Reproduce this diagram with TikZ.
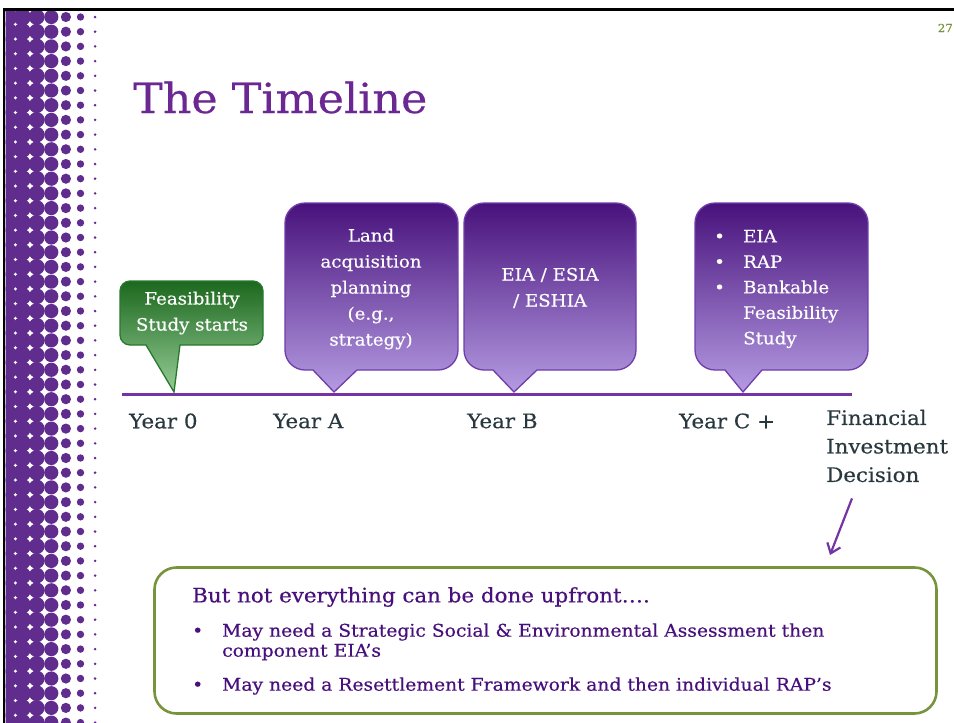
\documentclass[tikz,border=0pt]{standalone}
\usepackage{fontspec}
\setmainfont{DejaVu Serif}[FakeStretch=1.07,FakeBold=0.4]
\usetikzlibrary{arrows.meta}

\definecolor{dotpurple}{RGB}{96,44,142}
\definecolor{titlepurple}{RGB}{108,40,146}
\definecolor{linepurple}{RGB}{116,52,164}
\definecolor{bubbletop}{RGB}{72,18,124}
\definecolor{bubblebot}{RGB}{180,155,226}
\definecolor{bubbleedge}{RGB}{112,60,170}
\definecolor{greentop}{RGB}{28,104,30}
\definecolor{greenbot}{RGB}{150,205,150}
\definecolor{greenedge}{RGB}{40,120,45}
\definecolor{notegreen}{RGB}{119,147,60}
\definecolor{notepurple}{RGB}{72,16,124}
\definecolor{labelgray}{RGB}{40,56,62}

% speech bubble: style, left, top, right, bottom, pointer left, tip x, pointer right
\newcommand\speechbox[8]{%
  \path[#1] (#6,#5) -- (#7,392) -- (#8,#5) -- (#4-\bubbleradius,#5)
    arc[start angle=270,end angle=360,radius=\bubbleradius pt] -- (#4,#3+\bubbleradius)
    arc[start angle=0,end angle=90,radius=\bubbleradius pt] -- (#2+\bubbleradius,#3)
    arc[start angle=90,end angle=180,radius=\bubbleradius pt] -- (#2,#5-\bubbleradius)
    arc[start angle=180,end angle=270,radius=\bubbleradius pt] -- cycle;}
\tikzset{>={Straight Barb[length=9pt,width=14pt]}}

\begin{document}
\begin{tikzpicture}[x=1pt,y=-1pt,
    bubble radius/.store in=\bubbleradius,
    purplebubble/.style={bubble radius=20,top color=bubbletop,bottom color=bubblebot,draw=bubbleedge,line width=1.3pt},
    greenbubble/.style={bubble radius=10,top color=greentop,bottom color=greenbot,draw=greenedge,line width=1.3pt},
    bubbletext/.style={text=white,font=\fontsize{17}{26}\selectfont,inner sep=0pt},
    yearlabel/.style={text=labelgray,font=\fontsize{20}{28.5}\selectfont,anchor=west,inner sep=0pt},
    notebox/.style={draw=notegreen,line width=2.6pt,rounded corners=22pt,fill=white,minimum width=782pt,minimum height=146pt},
    notetext/.style={text=notepurple,anchor=west,inner sep=0pt,align=left}]

  \useasboundingbox (0,0) rectangle (954,723);

  % halftone strip on the left
  \begin{scope}
    \clip (5.5,11) rectangle (110,723);
    \foreach \col/\rad in {0/9.6,1/8.8,2/7.9,3/7.1,4/5.1,5/3.7,6/1.4}
      \foreach \row in {-1,...,48}
        \fill[dotpurple] (7.5+14.6*\col,17+14.7*\row) circle[radius=\rad pt];
  \end{scope}
  \draw[line width=2.7pt] (4,723) -- (4,9.5) -- (954,9.5);

  \node[font=\fontsize{41.5}{50}\selectfont,text=titlepurple,anchor=base west,inner sep=0pt] (title) at (133,113) {The Timeline};
  \node[font=\fontsize{11}{13}\selectfont,text=notegreen,anchor=base east,inner sep=0pt] (page) at (953,32) {27};

  \coordinate (tlstart) at (122,394);
  \coordinate (tlend) at (852,394);

  \speechbox{greenbubble}{120}{281}{263}{345}{146}{174}{180}
  \speechbox{purplebubble}{285}{203}{458}{370}{313}{334}{357}
  \speechbox{purplebubble}{464}{203}{636}{370}{493}{514}{537}
  \speechbox{purplebubble}{695}{203}{868}{370}{725}{743}{762}
  \draw[linepurple,line width=3pt] (tlstart) -- (tlend);

  \node[bubbletext,align=center] (feas) at (192,313) {Feasibility\\Study starts};
  \node[bubbletext,align=center] (land) at (371,289) {Land\\acquisition\\planning\\(e.g.,\\strategy)};
  \node[bubbletext,align=center] (eia) at (550,288) {EIA / ESIA\\/ ESHIA};
  \node[bubbletext,align=left,anchor=west,font=\fontsize{17}{25.5}\selectfont] (later) at (714,289)
    {\makebox[29pt][l]{\textbullet}EIA\\\makebox[29pt][l]{\textbullet}RAP\\\makebox[29pt][l]{\textbullet}Bankable\\\hspace*{29pt}Feasibility\\\hspace*{29pt}Study};

  \node[yearlabel] (year0) at (129,421) {Year 0};
  \node[yearlabel] (yearA) at (273,421) {Year A};
  \node[yearlabel] (yearB) at (467,421) {Year B};
  \node[yearlabel] (yearC) at (679,421) {Year C +};
  \node[yearlabel,align=left] (fid) at (826,446) {Financial\\Investment\\Decision};

  \node[notebox] (note) at (545.5,640.5) {};
  \node[notetext,font=\fontsize{20}{24}\selectfont] (notehead) at (192,597) {But not everything can be done upfront….};
  \node[notetext,font=\fontsize{17.5}{20}\selectfont] (notelist) at (192,659)
    {\makebox[30pt][l]{\textbullet}May need a Strategic Social \& Environmental Assessment then\\\hspace*{30pt}component EIA’s\\[14pt]\makebox[30pt][l]{\textbullet}May need a Resettlement Framework and then individual RAP’s};

  \coordinate (fidhead) at (830,555);
  \draw[->,linepurple,line width=2.2pt] ([xshift=26pt,yshift=-16pt]fid.south west) -- (fidhead);
\end{tikzpicture}
\end{document}
